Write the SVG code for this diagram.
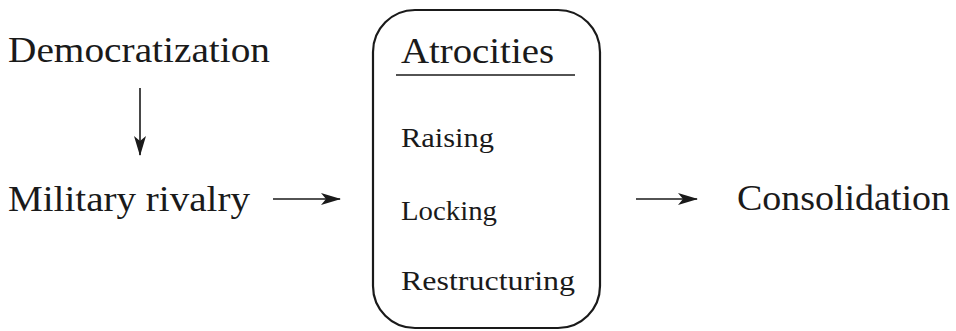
<svg xmlns="http://www.w3.org/2000/svg" width="956" height="331" viewBox="0 0 956 331">
<style>
.big{font-family:"Liberation Serif","DejaVu Serif",serif;font-size:35px;fill:#1a1a1a}
.small{font-family:"Liberation Serif","DejaVu Serif",serif;font-size:27px;fill:#1a1a1a}
.conn{stroke:#1a1a1a;stroke-width:1.6;fill:none}
</style>
<defs>
<marker id="ah" viewBox="0 0 20 12" refX="19" refY="6" markerWidth="20" markerHeight="12" markerUnits="userSpaceOnUse" orient="auto">
<path d="M0,0 L20,6 L0,12 L5,6 Z" fill="#1a1a1a"/>
</marker>
</defs>
<rect width="956" height="331" fill="#fff"/>
<g id="democratization"><text class="big" x="8" y="62" textLength="262" lengthAdjust="spacingAndGlyphs">Democratization</text></g>
<g id="military"><text class="big" x="8" y="211" textLength="242" lengthAdjust="spacingAndGlyphs">Military rivalry</text></g>
<g id="atrocities">
<rect x="373" y="10" width="227" height="318" rx="42" ry="42" fill="none" stroke="#1a1a1a" stroke-width="2.2"/>
<text class="big" x="401" y="63" textLength="153" lengthAdjust="spacingAndGlyphs">Atrocities</text>
<line x1="396" y1="75" x2="575" y2="75" stroke="#1a1a1a" stroke-width="1.6"/>
<text class="small" x="401" y="147" textLength="93" lengthAdjust="spacingAndGlyphs">Raising</text>
<text class="small" x="401" y="220" textLength="96" lengthAdjust="spacingAndGlyphs">Locking</text>
<text class="small" x="401" y="290" textLength="174" lengthAdjust="spacingAndGlyphs">Restructuring</text>
</g>
<g id="consolidation"><text class="big" x="737" y="210" textLength="213" lengthAdjust="spacingAndGlyphs">Consolidation</text></g>
<g id="connectors">
<line class="conn" x1="140" y1="88" x2="140" y2="155" marker-end="url(#ah)"/>
<line class="conn" x1="273" y1="199" x2="340" y2="199" marker-end="url(#ah)"/>
<line class="conn" x1="636" y1="199" x2="697" y2="199" marker-end="url(#ah)"/>
</g>
</svg>
